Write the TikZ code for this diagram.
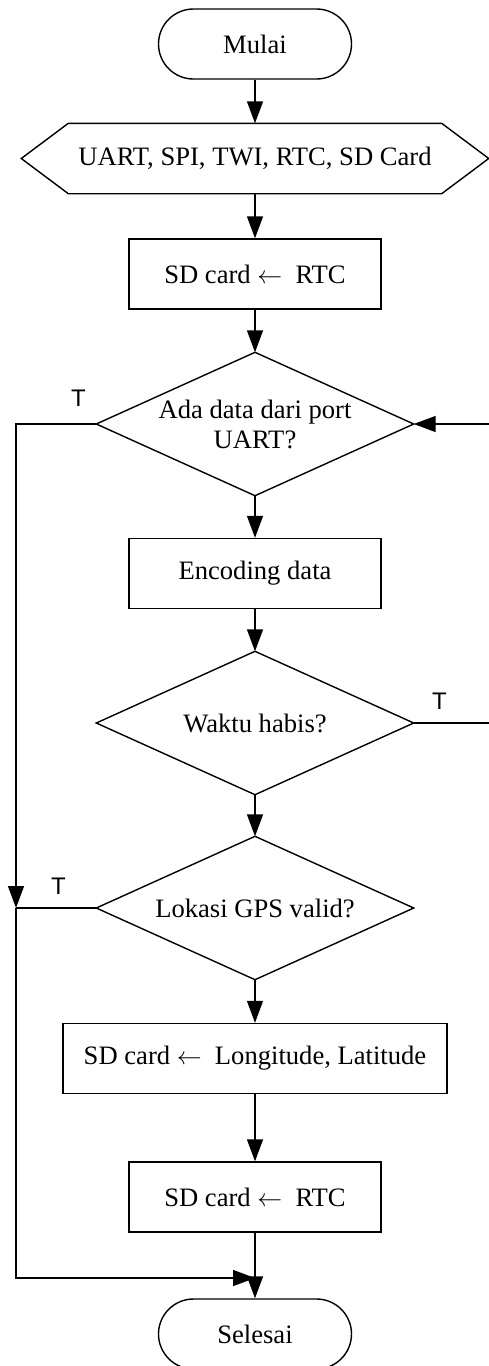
\documentclass[tikz,border=0pt]{standalone}
\usepackage{fontspec}
\setmainfont{Liberation Serif}
\newfontfamily\labelfont{Liberation Sans}
\usetikzlibrary{arrows.meta}
\begin{document}
\begin{tikzpicture}[x=1pt,y=-1pt,
  line width=1.4pt,
  every node/.style={font=\fontsize{26.6}{30}\selectfont, inner sep=0pt},
  terminal/.style={draw, rounded corners=35pt, minimum width=193pt, minimum height=70pt},
  process/.style={draw, minimum width=252pt, minimum height=70pt},
  decbox/.style={minimum width=316pt, minimum height=142pt, align=center},
  iobox/.style={minimum width=466pt, minimum height=69pt},
  flow/.style={-{Triangle[length=22pt,width=16pt]}},
  branch/.style={font=\labelfont\fontsize{24}{26}\selectfont},
]
\useasboundingbox (0,0) rectangle (489,1366);

% main column
\node[terminal] (start) at (255,44) {Mulai};
\node[iobox] (io) at (255,158.5) {UART, SPI, TWI, RTC, SD Card};
\draw (io.west) -- ([xshift=47pt]io.north west) -- ([xshift=-47pt]io.north east)
  -- (io.east) -- ([xshift=-47pt]io.south east) -- ([xshift=47pt]io.south west) -- cycle;
\node[process] (rtc1) at (255,274) {SD card $\leftarrow$\ \ RTC};
\node[decbox] (d1) at (255,424) {Ada data dari port\\UART?};
\draw (d1.north) -- (d1.east) -- (d1.south) -- (d1.west) -- cycle;
\node[process] (enc) at (255,573.5) {Encoding data};
\node[decbox] (d2) at (255,723) {Waktu habis?};
\draw (d2.north) -- (d2.east) -- (d2.south) -- (d2.west) -- cycle;
\node[decbox] (d3) at (255,908) {Lokasi GPS valid?};
\draw (d3.north) -- (d3.east) -- (d3.south) -- (d3.west) -- cycle;
\node[process, minimum width=384pt] (pos) at (255,1058.5) {SD card $\leftarrow$\ \ Longitude, Latitude};
\node[process] (rtc2) at (255,1197) {SD card $\leftarrow$\ \ RTC};
\node[terminal] (stop) at (255,1334) {Selesai};

% straight flow
\draw[flow] (start.south) -- (io.north);
\draw[flow] (io.south) -- (rtc1.north);
\draw[flow] (rtc1.south) -- (d1.north);
\draw[flow] (d1.south) -- (enc.north);
\draw[flow] (enc.south) -- (d2.north);
\draw[flow] (d2.south) -- (d3.north);
\draw[flow] (d3.south) -- (pos.north);
\draw[flow] (pos.south) -- (rtc2.north);
\draw[flow] (rtc2.south) -- (stop.north);

% left bypass
\coordinate (lt) at (16,424);
\coordinate (lj) at (16,908);
\coordinate (lb) at (16,1278);
\coordinate (bj) at (255,1278);
\draw[flow] (d1.west) -- (lt) -- (lj);
\draw (d3.west) -- (lj);
\draw[flow] (lj) -- (lb) -- (bj);

% right loop
\coordinate (rt) at (489,424);
\coordinate (rm) at (489,723);
\draw[flow] (rt) -- (d1.east);
\draw (d2.east) -- (rm);

% branch labels
\node[branch] (t1) at (78.5,398.5) {T};
\node[branch] (t2) at (439.5,701) {T};
\node[branch] (t3) at (58.5,886) {T};
\end{tikzpicture}
\end{document}
